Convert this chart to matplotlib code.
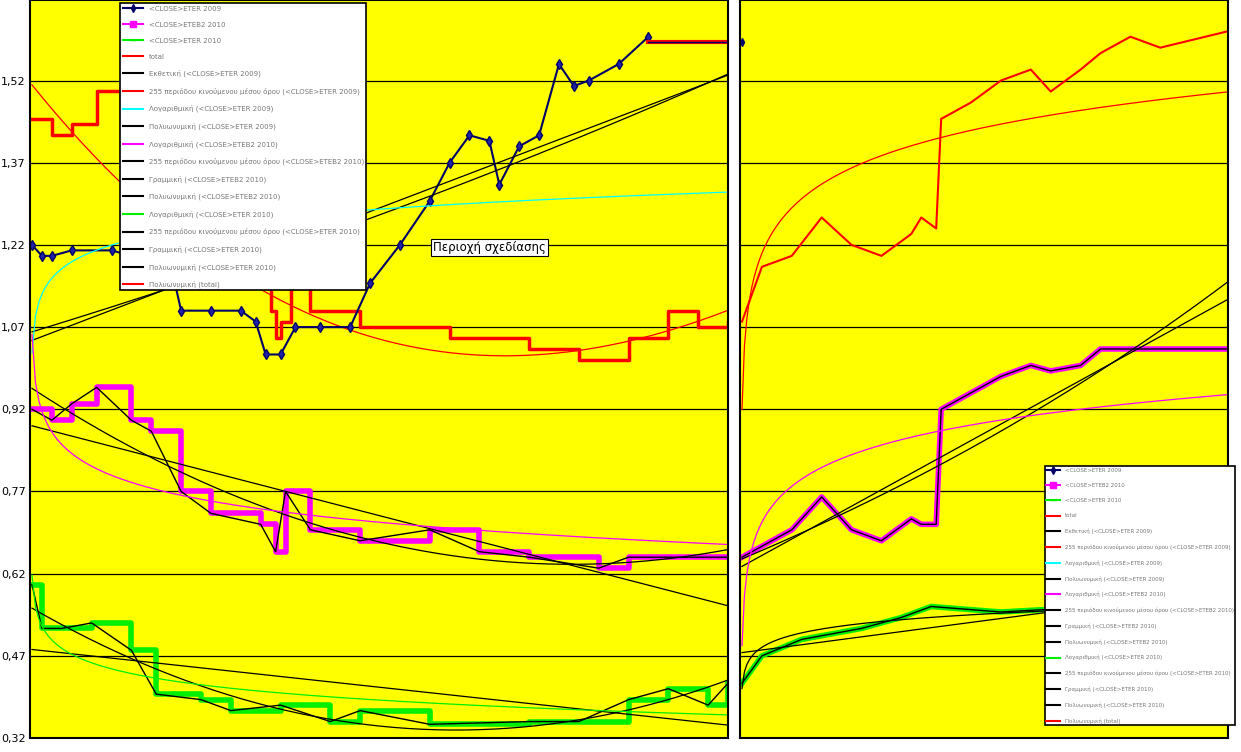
import numpy as np
import matplotlib.pyplot as plt
from matplotlib.lines import Line2D

plt.rcParams['font.family'] = ['DejaVu Sans']

# left panel (approx. trading-day position 0..700)
xb = [0, 10, 20, 40, 80, 120, 140, 150, 180, 210, 225, 235, 250, 265, 290, 320, 340, 370, 400, 420, 440, 460, 470, 490, 510, 530, 545, 560, 590, 620]
eter09 = [1.22, 1.20, 1.20, 1.21, 1.21, 1.19, 1.18, 1.10, 1.10, 1.10, 1.08, 1.02, 1.02, 1.07, 1.07, 1.07, 1.15, 1.22, 1.30, 1.37, 1.42, 1.41, 1.33, 1.40, 1.42, 1.55, 1.51, 1.52, 1.55, 1.60]
xt = [0, 20, 40, 65, 90, 120, 150, 200, 240, 245, 250, 260, 280, 330, 420, 500, 550, 600, 640, 670, 700]
total = [1.45, 1.42, 1.44, 1.50, 1.37, 1.35, 1.18, 1.15, 1.10, 1.05, 1.08, 1.15, 1.10, 1.07, 1.05, 1.03, 1.01, 1.05, 1.10, 1.07, 1.08]
xm = [0, 20, 40, 65, 100, 120, 150, 180, 230, 245, 255, 280, 330, 400, 450, 500, 570, 600, 700]
eteb2 = [0.92, 0.90, 0.93, 0.96, 0.90, 0.88, 0.77, 0.73, 0.71, 0.66, 0.77, 0.70, 0.68, 0.70, 0.66, 0.65, 0.63, 0.65, 0.65]
xg = [0, 10, 30, 60, 100, 125, 170, 200, 250, 300, 330, 400, 500, 550, 600, 640, 680, 700]
eter10 = [0.60, 0.52, 0.52, 0.53, 0.48, 0.40, 0.39, 0.37, 0.38, 0.35, 0.37, 0.345, 0.35, 0.35, 0.39, 0.41, 0.38, 0.42]

# right panel
xr = [0, 20, 50, 80, 110, 140, 170, 180, 195, 200, 230, 260, 290, 310, 340, 360, 390, 420, 488]
total_r = [1.08, 1.18, 1.20, 1.27, 1.22, 1.20, 1.24, 1.27, 1.25, 1.45, 1.48, 1.52, 1.54, 1.50, 1.54, 1.57, 1.60, 1.58, 1.61]
eteb2_r = [0.65, 0.67, 0.70, 0.76, 0.70, 0.68, 0.72, 0.71, 0.71, 0.92, 0.95, 0.98, 1.00, 0.99, 1.00, 1.03, 1.03, 1.03, 1.03]
xgr = [0, 20, 60, 120, 160, 190, 260, 360, 488]
eter10_r = [0.42, 0.47, 0.50, 0.52, 0.54, 0.56, 0.55, 0.56, 0.56]

labels = ['<CLOSE>ETER 2009', '<CLOSE>ETEB2 2010', '<CLOSE>ETER 2010', 'total',
          'Εκθετική (<CLOSE>ETER 2009)', '255 περιόδου κινούμενου μέσου όρου (<CLOSE>ETER 2009)',
          'Λογαριθμική (<CLOSE>ETER 2009)', 'Πολυωνυμική (<CLOSE>ETER 2009)',
          'Λογαριθμική (<CLOSE>ETEB2 2010)', '255 περιόδου κινούμενου μέσου όρου (<CLOSE>ETEB2 2010)',
          'Γραμμική (<CLOSE>ETEB2 2010)', 'Πολυωνυμική (<CLOSE>ETEB2 2010)',
          'Λογαριθμική (<CLOSE>ETER 2010)', '255 περιόδου κινούμενου μέσου όρου (<CLOSE>ETER 2010)',
          'Γραμμική (<CLOSE>ETER 2010)', 'Πολυωνυμική (<CLOSE>ETER 2010)', 'Πολυωνυμική (total)']
colors = ['#000066', 'magenta', '#00ee00', 'red', 'black', 'red', 'cyan', 'black', 'magenta',
          'black', 'black', 'black', '#00ee00', 'black', 'black', 'black', 'red']
markers = ['d', 's', '_'] + [None] * 14

yticks = [0.32, 0.47, 0.62, 0.77, 0.92, 1.07, 1.22, 1.37, 1.52]
ylim = (0.32, 1.667)


def trend(ax, x, y, kind, color, xmax):
    x = np.asarray(x, float)
    y = np.asarray(y, float)
    xx = np.linspace(x[0], xmax, 200)
    if kind == 'log':
        c = np.polyfit(np.log(x + 1), y, 1)
        yy = np.polyval(c, np.log(xx + 1))
    elif kind == 'exp':
        c = np.polyfit(x, np.log(y), 1)
        yy = np.exp(np.polyval(c, xx))
    else:
        c = np.polyfit(x, y, kind)
        yy = np.polyval(c, xx)
    ax.plot(xx, yy, color=color, lw=0.9)


fig = plt.figure(figsize=(12.41, 7.52), dpi=100)
ax1 = fig.add_axes([30 / 1241, 14 / 752, 698 / 1241, 738 / 752])
ax2 = fig.add_axes([740 / 1241, 14 / 752, 488 / 1241, 738 / 752])

for ax, xmax in ((ax1, 700), (ax2, 488)):
    ax.set_facecolor('yellow')
    ax.set_ylim(*ylim)
    ax.set_xlim(-2, xmax)
    ax.set_yticks(yticks)
    for yv in yticks[1:]:
        ax.axhline(yv, color='black', lw=0.9)
    ax.set_xticks([])
    for s in ax.spines.values():
        s.set_color('black')
        s.set_linewidth(1.5)
ax1.set_yticklabels([f'{v:.2f}'.replace('.', ',') for v in yticks], fontsize=8)
ax1.tick_params(axis='y', length=0, pad=3)
ax2.set_yticklabels([])
ax2.tick_params(axis='y', length=0)

# left panel series
ax1.plot(xt, total, color='red', lw=2.5, drawstyle='steps-post')
trend(ax1, xt, total, 3, 'red', 700)
ax1.plot(xb, eter09, color='#000066', lw=1.5, marker='d', ms=5, mfc='#2020aa')
trend(ax1, xb, eter09, 1, 'black', 700)
trend(ax1, xb, eter09, 'exp', 'black', 700)
trend(ax1, xb, eter09, 'log', 'cyan', 700)
ax1.plot([620, 700], [1.59, 1.59], color='red', lw=3)
ax1.plot([620, 700], [1.59, 1.59], color='#000066', lw=1)
ax1.plot(xm, eteb2, color='magenta', lw=4, drawstyle='steps-post')
ax1.plot(xm, eteb2, color='black', lw=1)
trend(ax1, xm, eteb2, 1, 'black', 700)
trend(ax1, xm, eteb2, 2, 'black', 700)
trend(ax1, xm, eteb2, 'log', 'magenta', 700)
ax1.plot(xg, eter10, color='#00ee00', lw=4, drawstyle='steps-post')
ax1.plot(xg, eter10, color='black', lw=1)
trend(ax1, xg, eter10, 1, 'black', 700)
trend(ax1, xg, eter10, 2, 'black', 700)
trend(ax1, xg, eter10, 'log', '#00ee00', 700)
ax1.text(403, 1.215, 'Περιοχή σχεδίασης', fontsize=8.5, ha='left', va='center',
         bbox=dict(facecolor='white', edgecolor='black', lw=0.8, pad=1.5))

# right panel series
ax2.plot(xr, total_r, color='red', lw=1.5)
trend(ax2, xr, total_r, 'log', 'red', 488)
ax2.plot([0], [1.59], marker='d', color='#000066', ms=4)
ax2.plot(xr, eteb2_r, color='magenta', lw=4)
ax2.plot(xr, eteb2_r, color='black', lw=1)
trend(ax2, xr, eteb2_r, 1, 'black', 488)
trend(ax2, xr, eteb2_r, 'exp', 'black', 488)
trend(ax2, xr, eteb2_r, 'log', 'magenta', 488)
ax2.plot(xgr, eter10_r, color='#00ee00', lw=4)
ax2.plot(xgr, eter10_r, color='black', lw=1)
trend(ax2, xgr, eter10_r, 1, 'black', 488)
trend(ax2, xgr, eter10_r, 'log', 'black', 488)

handles = [Line2D([], [], color=c, marker=m, ms=4, lw=1.5) for c, m in zip(colors, markers)]
leg1 = fig.legend(handles, labels, loc='upper left', bbox_to_anchor=(117 / 1241, 1.0),
                  fontsize=5, frameon=True, fancybox=False, edgecolor='black', framealpha=1,
                  labelspacing=1.45, handlelength=3, borderpad=0.3, labelcolor='#777777')
leg1.get_frame().set_linewidth(1.2)
leg2 = fig.legend(handles, labels, loc='lower right', bbox_to_anchor=(1238 / 1241, 24 / 752),
                  fontsize=4.0, frameon=True, fancybox=False, edgecolor='black', framealpha=1,
                  labelspacing=1.85, handlelength=2.5, borderpad=0.3, labelcolor='#777777')
leg2.get_frame().set_linewidth(1.2)

fig.savefig('out.png', dpi=100)
